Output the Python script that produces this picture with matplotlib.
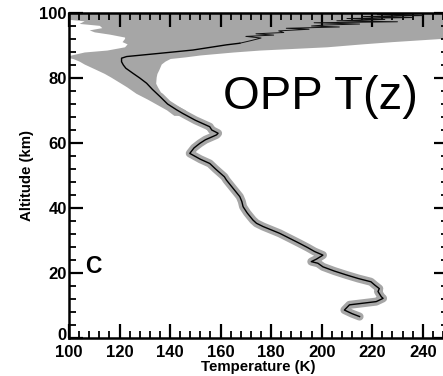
import matplotlib
matplotlib.use("Agg")
import matplotlib.pyplot as plt
from matplotlib.ticker import MultipleLocator
from matplotlib.transforms import ScaledTranslation

# ---- data ----
alt = [6.6, 7.5, 8.6, 10.2, 11.2, 12.2, 12.7, 14.3, 15.2, 16.3, 17.3, 18.3, 19.4, 20.6,
       21.9, 23.0, 23.5, 24.3, 25.5, 26.6, 27.8, 29.1, 30.2, 32.2, 34.3, 35.3, 36.3, 38.5,
       40.4, 42.0, 43.5, 46.0, 48.6, 49.6, 52.0, 53.7, 55.0, 56.8, 58.5, 59.9, 61.0, 62.5,
       63.0, 64.0, 65.0, 67.0, 69.1, 70.2, 72.0, 74.3, 76.5, 78.4, 80.0, 81.4, 83.0, 84.0,
       85.0, 86.1, 86.6, 87.6, 88.6, 90.2, 90.7, 91.5, 92.3, 92.8, 93.2, 93.6, 94.0, 94.5,
       95.0, 95.3, 95.7, 96.0, 96.3, 96.6, 97.0, 97.3, 97.6, 98.0, 98.3, 98.6, 98.9, 99.2,
       99.5, 99.8]
temp = [215.0, 212.0, 209.0, 211.0, 221.6, 224.3, 223.6, 222.3, 222.8, 221.0, 219.5, 214.5, 209.8, 205.0,
        200.5, 198.5, 195.9, 198.0, 200.5, 197.2, 194.5, 191.3, 188.5, 183.4, 176.8, 174.2, 172.8, 170.5,
        168.9, 168.4, 167.6, 165.0, 162.3, 161.5, 158.0, 155.7, 152.0, 147.8, 149.5, 151.8, 154.0, 158.4,
        159.0, 156.5, 155.7, 150.0, 145.0, 142.6, 139.0, 136.0, 133.0, 130.7, 128.0, 125.4, 122.5, 121.5,
        120.8, 120.8, 122.8, 136.0, 149.0, 162.3, 167.6, 172.0, 176.0, 170.0, 181.0, 174.0, 185.0, 183.0,
        195.0, 186.0, 207.0, 196.0, 201.0, 215.0, 197.0, 230.0, 206.0, 225.0, 210.0, 236.0, 216.0, 240.0,
        222.0, 238.0]

band_alt = [68.5, 70.2, 72.2, 73.5, 75.3, 77.3, 78.4, 80.3, 81.4, 82.5, 84.3, 85.2, 86.0, 86.5, 87.1,
            88.0, 88.6, 89.6, 90.5, 91.2, 92.2, 92.6, 93.5, 94.2, 94.8, 95.5, 96.2, 96.8, 97.6, 98.2, 100.0]
band_lo = [141.5, 138.6, 134.0, 131.0, 126.5, 122.8, 120.5, 116.5, 114.0, 111.0, 106.0, 104.0, 101.5, 98.0, 101.0,
           106.0, 115.0, 122.0, 123.0, 121.0, 122.0, 122.0, 116.0, 110.0, 108.0, 113.0, 112.0, 104.0, 106.0, 98.0, 98.0]
band_hi = [147.5, 146.0, 141.0, 138.5, 136.5, 135.0, 134.3, 134.5, 134.8, 135.5, 136.5, 138.0, 140.0, 146.0, 152.0,
           165.0, 175.5, 202.0, 216.0, 228.0, 248.0, 255.0, 255.0, 255.0, 255.0, 255.0, 255.0, 255.0, 255.0, 255.0, 255.0]

x_ticks = [100, 120, 140, 160, 180, 200, 220, 240]
y_ticks = [0, 20, 40, 60, 80, 100]

gray = "#a6a6a6"

fig = plt.figure(figsize=(4.43, 3.76), dpi=100)
ax = fig.add_axes([69 / 443, 1 - 338 / 376, (448 - 69) / 443, (338 - 13) / 376])

ax.fill_betweenx(band_alt, band_lo, band_hi, color=gray, lw=0, zorder=1)
ax.plot(temp[:50], alt[:50], color=gray, lw=5.8, solid_capstyle="round",
        solid_joinstyle="round", zorder=1)
ax.plot(temp[:63], alt[:63], color="black", lw=1.0, zorder=2)
ax.plot(temp[62:], alt[62:], color="#111111", lw=0.7, zorder=2)

ax.set_xlim(100, 250)
ax.set_ylim(0, 100)
ax.set_xticks(x_ticks)
ax.set_yticks(y_ticks)
ax.xaxis.set_minor_locator(MultipleLocator(4))
ax.yaxis.set_minor_locator(MultipleLocator(4))
ax.tick_params(which="both", direction="in", top=True, right=True)
ax.tick_params(which="major", length=10, width=1.6)
ax.tick_params(which="minor", length=5, width=1.3)
ax.tick_params(axis="x", which="major", pad=5)
ax.tick_params(axis="y", which="major", pad=1.5)
for lab in ax.get_xticklabels() + ax.get_yticklabels():
    lab.set_fontweight("bold")
    lab.set_fontsize(12)
    lab.set_family("Liberation Sans")
# lift the "0" altitude label a little, as in the reference
ylabs = ax.get_yticklabels()
ylabs[0].set_transform(ylabs[0].get_transform() + ScaledTranslation(0, 4 / 100, fig.dpi_scale_trans))
for sp in ax.spines.values():
    sp.set_linewidth(1.8)

ax.set_xlabel("Temperature (K)", fontsize=10.8, fontweight="bold", family="Liberation Sans", labelpad=0)
ax.set_ylabel("Altitude (km)", fontsize=10.8, fontweight="bold", family="Liberation Sans", labelpad=4)

ax.text(161, 70.4, "OPP T(z)", fontsize=34, family="Liberation Sans", ha="left", va="baseline")
ax.text(106.5, 20, "C", fontsize=16.5, fontweight="bold", family="Liberation Sans", ha="left", va="baseline")

fig.savefig("out.png", dpi=100)
